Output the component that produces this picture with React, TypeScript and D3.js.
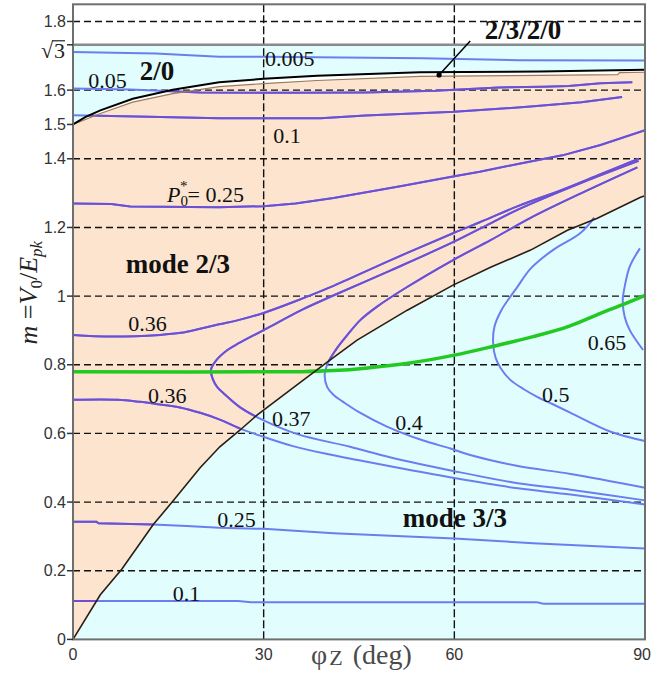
import * as d3 from "d3";
import React from "react";

type Pt = [number, number];

// region boundaries (phi_Z in deg, m)
const sqrt3 = Math.sqrt(3);
const upperBoundary: Pt[] = [
  [0, 1.5], [2, 1.522], [4.3, 1.541], [9.4, 1.575], [15.7, 1.601], [23, 1.623],
  [30, 1.633], [38.4, 1.642], [54.6, 1.652], [73.5, 1.654], [90, 1.659],
];
const peachTop: Pt[] = [
  [0, 1.5], [4.3, 1.532], [9.4, 1.565], [15.7, 1.59], [23, 1.61], [30, 1.619],
  [38.4, 1.628], [54.6, 1.64], [73.5, 1.643], [85.7, 1.645], [86, 1.651], [90, 1.652],
];
const modeBoundary: Pt[] = [
  [0, 0], [4.3, 0.13], [7.7, 0.205], [12.6, 0.334], [15.6, 0.4], [20, 0.5],
  [23.1, 0.561], [26.3, 0.61], [29, 0.654], [34.2, 0.727], [40, 0.808],
  [44.7, 0.872], [52.6, 0.959], [59.8, 1.032], [65.7, 1.084], [72, 1.134],
  [77.8, 1.192], [82.5, 1.227], [89.3, 1.288], [90, 1.292],
];

// P0* contours
const c0005: Pt[] = [[0, 1.711], [13, 1.707], [23, 1.697], [30, 1.697], [55, 1.693], [70, 1.687], [90, 1.686]];
const c005: Pt[] = [
  [0, 1.605], [9, 1.602], [20, 1.593], [35, 1.592], [46, 1.593], [57, 1.598],
  [67, 1.608], [74, 1.61], [78, 1.612], [83, 1.62], [88, 1.623],
];
const c01: Pt[] = [
  [0, 1.527], [10, 1.523], [23, 1.518], [39, 1.518], [46, 1.526], [60, 1.537],
  [72, 1.552], [80, 1.565], [86.4, 1.58],
];
const c025Upper: Pt[] = [
  [0, 1.27], [6, 1.268], [9, 1.261], [23, 1.259], [30, 1.262], [35, 1.27], [41, 1.286],
  [51.5, 1.32], [60, 1.349], [64, 1.362], [70, 1.385], [77, 1.41], [83, 1.44], [90, 1.483],
];
const c036Upper: Pt[] = [
  [0, 0.887], [6, 0.882], [13.7, 0.887], [17, 0.893], [20, 0.905], [23, 0.918],
  [26, 0.93], [30, 0.951], [35, 0.985], [40.5, 1.026], [50, 1.105], [59.8, 1.183],
  [64, 1.215], [70, 1.262], [77, 1.31], [83, 1.355], [89, 1.4],
];
const c036Lower: Pt[] = [
  [0, 0.698], [7, 0.698], [10.5, 0.692], [13, 0.686], [17, 0.675], [20, 0.66],
  [23, 0.641], [26.3, 0.614], [30, 0.59], [34.6, 0.563], [40, 0.54], [45, 0.522],
  [52, 0.497], [60, 0.47], [70, 0.44], [78.3, 0.422], [90, 0.393],
];
const c037: Pt[] = [
  [89, 1.394], [80, 1.33], [70, 1.252], [65.7, 1.212], [59.8, 1.157], [50, 1.075],
  [40.5, 0.998], [36, 0.96], [30, 0.901], [26, 0.862], [24.3, 0.843], [22.5, 0.812],
  [21.7, 0.785], [22, 0.758], [22.7, 0.735], [24, 0.712], [26.3, 0.676], [30, 0.638],
  [35.3, 0.598], [43.6, 0.561], [50, 0.53], [60, 0.49], [70, 0.455], [78.3, 0.436], [90, 0.405],
];
const c04: Pt[] = [
  [88.8, 1.375], [80, 1.3], [72, 1.228], [65.7, 1.163], [59.8, 1.105], [52, 1.02],
  [47.9, 0.97], [45.2, 0.93], [43.1, 0.885], [41.3, 0.842], [40.1, 0.805], [39.6, 0.77],
  [40, 0.735], [41, 0.712], [42.5, 0.692], [45, 0.662], [49.4, 0.62], [55, 0.58],
  [59.4, 0.556], [62.5, 0.537], [70, 0.505], [78.3, 0.482], [90, 0.442],
];
const c05: Pt[] = [
  [82, 1.228], [79.8, 1.183], [75.5, 1.134], [72, 1.08], [69.9, 1.026], [67.4, 0.959],
  [66.3, 0.91], [66.1, 0.865], [66.5, 0.82], [67.3, 0.79], [68.8, 0.756], [71, 0.728],
  [73.1, 0.706], [75.5, 0.685], [78.3, 0.66], [84.6, 0.605], [90, 0.578],
];
const c065: Pt[] = [
  [89.2, 1.139], [87.6, 1.086], [86.8, 1.027], [86.5, 0.989], [86.8, 0.94], [87.6, 0.901], [89.7, 0.843],
];
const c025Lower: Pt[] = [
  [0, 0.343], [3.7, 0.343], [4, 0.338], [12.6, 0.335], [17.9, 0.33], [23, 0.325],
  [30, 0.322], [41, 0.309], [50, 0.302], [60, 0.294], [72.4, 0.28], [90, 0.265],
];
const c01Lower: Pt[] = [[0, 0.112], [26, 0.112], [28, 0.108], [73, 0.108], [74, 0.104], [90, 0.104]];

// green curve
const greenCurve: Pt[] = [
  [0, 0.78], [36, 0.78], [41, 0.783], [46, 0.79], [53, 0.805], [60, 0.828], [66, 0.853],
  [72.4, 0.882], [78, 0.912], [83, 0.95], [86.5, 0.975], [90, 1.002],
];

const xTicks = [0, 30, 60, 90];
const yTicks = [0, 0.2, 0.4, 0.6, 0.8, 1, 1.2, 1.4, 1.5, 1.6, 1.8];
const yGrid = [0.2, 0.4, 0.6, 0.8, 1, 1.2, 1.4, 1.6, 1.8];
const xGrid = [30, 60];

const contours = [
  { pts: c0005, smooth: false },
  { pts: c005, smooth: false },
  { pts: c01, smooth: false },
  { pts: c025Upper, smooth: false },
  { pts: c036Upper, smooth: true },
  { pts: c036Lower, smooth: true },
  { pts: c037, smooth: true },
  { pts: c04, smooth: true },
  { pts: c05, smooth: true },
  { pts: c065, smooth: true },
  { pts: c025Lower, smooth: false },
  { pts: c01Lower, smooth: false },
];

const contourLabels = [
  { text: "0.005", at: [30.2, 1.67] },
  { text: "0.05", at: [2.4, 1.606] },
  { text: "0.1", at: [31.5, 1.446] },
  { text: "0.36", at: [8.7, 0.898] },
  { text: "0.36", at: [11.8, 0.689] },
  { text: "0.37", at: [31.3, 0.622] },
  { text: "0.4", at: [50.7, 0.61] },
  { text: "0.5", at: [73.8, 0.692] },
  { text: "0.65", at: [81, 0.843] },
  { text: "0.25", at: [22.7, 0.327] },
  { text: "0.1", at: [15.7, 0.112] },
];
const regionLabels = [
  { text: "2/0", at: [10.5, 1.63] },
  { text: "mode 2/3", at: [8.3, 1.067] },
  { text: "mode 3/3", at: [51.9, 0.327] },
];

const W = 652;
const H = 677;
const margin = { top: 4.3, right: 7, bottom: 37.6, left: 73 };

const x = d3.scaleLinear().domain([0, 90]).range([margin.left, W - margin.right]);
const y = d3.scaleLinear().domain([0, 1.85]).range([H - margin.bottom, margin.top]);

const line = d3.line<Pt>().x((d) => x(d[0])).y((d) => y(d[1]));
const smoothLine = d3
  .line<Pt>()
  .x((d) => x(d[0]))
  .y((d) => y(d[1]))
  .curve(d3.curveCatmullRom.alpha(0.5));

const serif = "'Liberation Serif', 'Times New Roman', serif";
const sans = "'Liberation Sans', Arial, sans-serif";

const PEACH = "#fce4ce";
const CYAN = "#e2fdfd";
const PURPLE = "#6e4fd4";
const BLUE = "#6a7ef0";

export default function App() {
  const x0 = x(0);
  const x1 = x(90);
  const yTop = margin.top;
  const yBot = y(0);

  const stripPath = line([...upperBoundary, ...[...peachTop].reverse()]) + "Z";
  const peachPath = line([...peachTop, ...[...modeBoundary].reverse()]) + "Z";
  const clipPathD = line([...upperBoundary, ...[...modeBoundary].reverse()]) + "Z";

  return (
    <svg
      width={W}
      height={H}
      style={{ position: "absolute", left: 0, top: 0, background: "#fff" }}
    >
      <defs>
        <clipPath id="peachClip">
          <path d={clipPathD} />
        </clipPath>
      </defs>

      {/* fills */}
      <rect x={x0} y={yTop} width={x1 - x0} height={yBot - yTop} fill="#fff" />
      <rect x={x0} y={y(sqrt3)} width={x1 - x0} height={yBot - y(sqrt3)} fill={CYAN} />
      <path d={stripPath} fill="#fff" />
      <path d={peachPath} fill={PEACH} />

      {/* grid */}
      {yGrid.map((v) => (
        <line key={"gy" + v} x1={x0} x2={x1} y1={y(v)} y2={y(v)} stroke="#111" strokeWidth={1.4} strokeDasharray="7 4" />
      ))}
      {xGrid.map((v) => (
        <line key={"gx" + v} x1={x(v)} x2={x(v)} y1={yTop} y2={yBot} stroke="#111" strokeWidth={1.4} strokeDasharray="8 3" />
      ))}

      {/* contours: blue everywhere, purple inside mode 2/3 */}
      <g fill="none" stroke={BLUE} strokeWidth={2}>
        {contours.map((c, i) => (
          <path key={"cb" + i} d={(c.smooth ? smoothLine : line)(c.pts) || ""} />
        ))}
      </g>
      <g fill="none" stroke={PURPLE} strokeWidth={2} clipPath="url(#peachClip)">
        {contours.map((c, i) => (
          <path key={"cp" + i} d={(c.smooth ? smoothLine : line)(c.pts) || ""} />
        ))}
      </g>

      {/* green curve */}
      <path d={smoothLine(greenCurve) || ""} fill="none" stroke="#22c922" strokeWidth={3.5} />

      {/* boundaries */}
      <path d={line(peachTop) || ""} fill="none" stroke="#9a7a5a" strokeWidth={1.2} />
      <path d={line(upperBoundary) || ""} fill="none" stroke="#000" strokeWidth={2} />
      <path d={line(modeBoundary) || ""} fill="none" stroke="#2a1d12" strokeWidth={1.6} />
      <line x1={x0} x2={x1} y1={y(sqrt3)} y2={y(sqrt3)} stroke="#8a8a8a" strokeWidth={2.6} />

      {/* frame */}
      <rect x={x0} y={yTop} width={x1 - x0} height={yBot - yTop} fill="none" stroke="#6f6f6f" strokeWidth={2} />

      {/* y ticks */}
      {yTicks.map((v) => (
        <g key={"ty" + v}>
          <line x1={x0 - 6} x2={x0} y1={y(v)} y2={y(v)} stroke="#333" strokeWidth={1.5} />
          <text x={x0 - 7} y={y(v)} dy="0.35em" textAnchor="end" fontFamily={sans} fontSize={16} fill="#333">
            {String(v)}
          </text>
        </g>
      ))}
      <line x1={x0 - 6} x2={x0} y1={y(sqrt3)} y2={y(sqrt3)} stroke="#333" strokeWidth={1.5} />
      <text x={x0 - 20} y={y(sqrt3) + 13} textAnchor="end" fontFamily={serif} fontSize={22} fill="#222">
        √
      </text>
      <text x={x0 - 8} y={y(sqrt3) + 13} textAnchor="end" fontFamily={serif} fontSize={22} fill="#222">
        3
      </text>
      <line x1={x0 - 21} x2={x0 - 8} y1={y(sqrt3) - 4} y2={y(sqrt3) - 4} stroke="#222" strokeWidth={1.2} />

      {/* x ticks */}
      {xTicks.map((v) => (
        <text
          key={"tx" + v}
          x={v === 90 ? W - 1 : x(v)}
          y={yBot + 21}
          textAnchor={v === 90 ? "end" : "middle"}
          fontFamily={sans}
          fontSize={16}
          fill="#333"
        >
          {v}
        </text>
      ))}

      {/* axis titles */}
      <text x={311} y={yBot + 25} fontFamily={serif} fontSize={28} fill="#4a4a4a">
        φ<tspan fontSize={22} dx={2} dy={1}>Z</tspan>
        <tspan dx={10} dy={-1}>(deg)</tspan>
      </text>
      <text
        transform={`translate(37, ${y(1.01)}) rotate(-90)`}
        textAnchor="middle"
        fontFamily={serif}
        fontSize={26}
        fill="#222"
      >
        <tspan fontStyle="italic">m</tspan>
        <tspan> =</tspan>
        <tspan fontStyle="italic">V</tspan>
        <tspan fontSize={17} dy={5}>0</tspan>
        <tspan dy={-5}>/</tspan>
        <tspan fontStyle="italic">E</tspan>
        <tspan fontStyle="italic" fontSize={17} dy={5}>pk</tspan>
      </text>

      {/* contour labels */}
      {contourLabels.map((l, i) => (
        <text key={"cl" + i} x={x(l.at[0])} y={y(l.at[1])} fontFamily={serif} fontSize={22} fill="#111">
          {l.text}
        </text>
      ))}
      <text x={x(14.8)} y={y(1.274)} fontFamily={serif} fontSize={22} fill="#111">
        <tspan fontStyle="italic">P</tspan>
        <tspan fontSize={15} dy={4}>0</tspan>
        <tspan fontSize={15} dx={-8} dy={-15}>*</tspan>
        <tspan dy={11}>= 0.25</tspan>
      </text>

      {/* region labels */}
      {regionLabels.map((l, i) => (
        <text key={"rl" + i} x={x(l.at[0])} y={y(l.at[1])} fontFamily={serif} fontSize={27} fontWeight="bold" fill="#111">
          {l.text}
        </text>
      ))}
      <rect x={x(63.3)} y={y(1.78)} width={94} height={12} fill="#fff" />
      <text x={x(64.8)} y={y(1.749)} fontFamily={serif} fontSize={27} fontWeight="bold" fill="#111">
        2/3/2/0
      </text>
      <line x1={x(62.5)} y1={y(1.743)} x2={x(57.6)} y2={y(1.644)} stroke="#000" strokeWidth={1.5} />
      <circle cx={x(57.6)} cy={y(1.644)} r={2.6} fill="#000" />
    </svg>
  );
}
